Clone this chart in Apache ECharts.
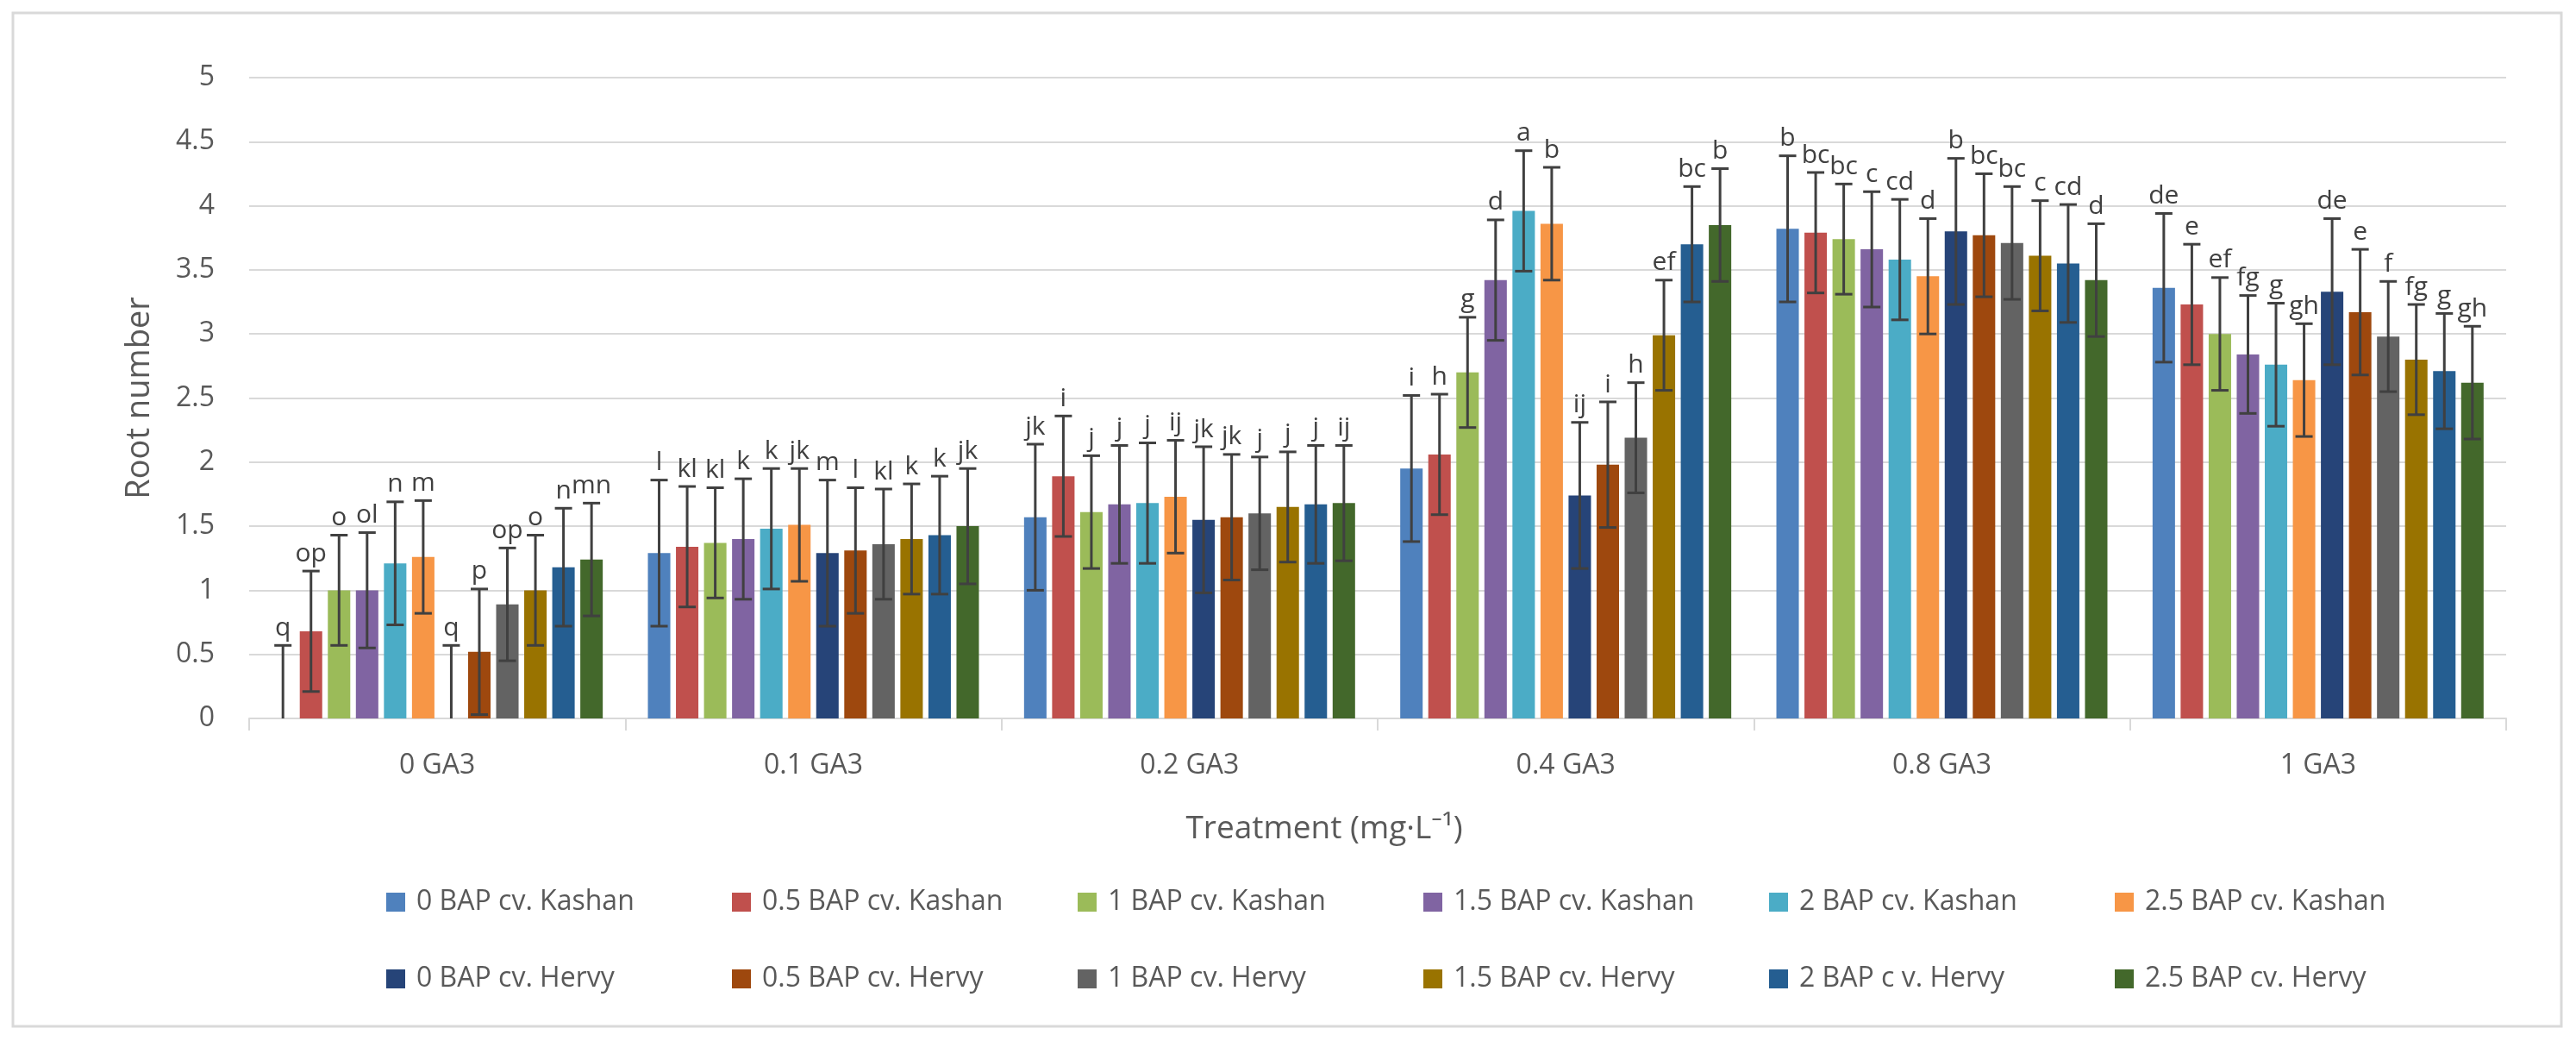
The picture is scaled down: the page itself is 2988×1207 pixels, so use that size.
<!DOCTYPE html>
<html><head><meta charset="utf-8">
<script src="https://cdn.jsdelivr.net/npm/echarts@6/dist/echarts.min.js"></script>
<style>html,body{margin:0;padding:0;background:#fff}#c{width:2988px;height:1207px}</style>
</head><body><div id="c"></div>
<script>
// ---- data ----
const categories = ['0 GA3', '0.1 GA3', '0.2 GA3', '0.4 GA3', '0.8 GA3', '1 GA3'];
const yTicks = [0, 0.5, 1, 1.5, 2, 2.5, 3, 3.5, 4, 4.5, 5];
const seriesNames = [
  '0 BAP cv. Kashan', '0.5 BAP cv. Kashan', '1 BAP cv. Kashan', '1.5 BAP cv. Kashan', '2 BAP cv. Kashan', '2.5 BAP cv. Kashan',
  '0 BAP cv. Hervy', '0.5 BAP cv. Hervy', '1 BAP cv. Hervy', '1.5 BAP cv. Hervy', '2 BAP c v. Hervy', '2.5 BAP cv. Hervy'
];
const seriesColors = ['#4F81BD', '#C0504D', '#9BBB59', '#8064A2', '#4BACC6', '#F79646',
                      '#264478', '#9E480E', '#636363', '#997300', '#255E91', '#43682B'];

const kashan0  = [0.00, 1.29, 1.57, 1.95, 3.82, 3.36];
const kashan05 = [0.68, 1.34, 1.89, 2.06, 3.79, 3.23];
const kashan1  = [1.00, 1.37, 1.61, 2.70, 3.74, 3.00];
const kashan15 = [1.00, 1.40, 1.67, 3.42, 3.66, 2.84];
const kashan2  = [1.21, 1.48, 1.68, 3.96, 3.58, 2.76];
const kashan25 = [1.26, 1.51, 1.73, 3.86, 3.45, 2.64];
const hervy0   = [0.00, 1.29, 1.55, 1.74, 3.80, 3.33];
const hervy05  = [0.52, 1.31, 1.57, 1.98, 3.77, 3.17];
const hervy1   = [0.89, 1.36, 1.60, 2.19, 3.71, 2.98];
const hervy15  = [1.00, 1.40, 1.65, 2.99, 3.61, 2.80];
const hervy2   = [1.18, 1.43, 1.67, 3.70, 3.55, 2.71];
const hervy25  = [1.24, 1.50, 1.68, 3.85, 3.42, 2.62];

const errKashan0  = [0.57, 0.57, 0.57, 0.57, 0.57, 0.58];
const errKashan05 = [0.47, 0.47, 0.47, 0.47, 0.47, 0.47];
const errKashan1  = [0.43, 0.43, 0.44, 0.43, 0.43, 0.44];
const errKashan15 = [0.45, 0.47, 0.46, 0.47, 0.45, 0.46];
const errKashan2  = [0.48, 0.47, 0.47, 0.47, 0.47, 0.48];
const errKashan25 = [0.44, 0.44, 0.44, 0.44, 0.45, 0.44];
const errHervy0   = [0.57, 0.57, 0.57, 0.57, 0.57, 0.57];
const errHervy05  = [0.49, 0.49, 0.49, 0.49, 0.48, 0.49];
const errHervy1   = [0.44, 0.43, 0.44, 0.43, 0.44, 0.43];
const errHervy15  = [0.43, 0.43, 0.43, 0.43, 0.43, 0.43];
const errHervy2   = [0.46, 0.46, 0.46, 0.45, 0.46, 0.45];
const errHervy25  = [0.44, 0.45, 0.45, 0.44, 0.44, 0.44];

const lblKashan0  = ['q', 'l', 'jk', 'i', 'b', 'de'];
const lblKashan05 = ['op', 'kl', 'i', 'h', 'bc', 'e'];
const lblKashan1  = ['o', 'kl', 'j', 'g', 'bc', 'ef'];
const lblKashan15 = ['ol', 'k', 'j', 'd', 'c', 'fg'];
const lblKashan2  = ['n', 'k', 'j', 'a', 'cd', 'g'];
const lblKashan25 = ['m', 'jk', 'ij', 'b', 'd', 'gh'];
const lblHervy0   = ['q', 'm', 'jk', 'ij', 'b', 'de'];
const lblHervy05  = ['p', 'l', 'jk', 'i', 'bc', 'e'];
const lblHervy1   = ['op', 'kl', 'j', 'h', 'bc', 'f'];
const lblHervy15  = ['o', 'k', 'j', 'ef', 'c', 'fg'];
const lblHervy2   = ['n', 'k', 'j', 'bc', 'cd', 'g'];
const lblHervy25  = ['mn', 'jk', 'ij', 'b', 'd', 'gh'];

const values = [kashan0, kashan05, kashan1, kashan15, kashan2, kashan25, hervy0, hervy05, hervy1, hervy15, hervy2, hervy25];
const errors = [errKashan0, errKashan05, errKashan1, errKashan15, errKashan2, errKashan25, errHervy0, errHervy05, errHervy1, errHervy15, errHervy2, errHervy25];
const letters = [lblKashan0, lblKashan05, lblKashan1, lblKashan15, lblKashan2, lblKashan25, lblHervy0, lblHervy05, lblHervy1, lblHervy15, lblHervy2, lblHervy25];

// ---- chart ----
const FONT = "'Open Sans', 'Noto Sans', sans-serif";
const TXT = '#595959';
const CAT_GAP = 0.12, BAR_GAP = 0.25, N = seriesNames.length;

const errData = [], errLabels = [];
values.forEach((arr, s) => arr.forEach((v, c) => {
  errData.push([c, s, v, errors[s][c]]);
  errLabels.push(letters[s][c]);
}));

function renderErr(params, api) {
  const cat = api.value(0), s = api.value(1), v = api.value(2), e = api.value(3);
  const band = api.size([1, 0])[0];
  const w = band * (1 - CAT_GAP) / (N + (N - 1) * BAR_GAP);
  const total = N * w + (N - 1) * w * BAR_GAP;
  const cx = api.coord([cat, 0])[0] - total / 2 + s * w * (1 + BAR_GAP) + w / 2;
  const yTop = api.coord([cat, v + e])[1];
  const yBot = api.coord([cat, Math.max(0, v - e)])[1];
  const cap = 10;
  const st = { stroke: '#404040', lineWidth: 3 };
  const children = [
    { type: 'line', shape: { x1: cx, y1: yTop, x2: cx, y2: yBot }, style: st },
    { type: 'line', shape: { x1: cx - cap, y1: yTop, x2: cx + cap, y2: yTop }, style: st }
  ];
  if (v - e > 0) children.push({ type: 'line', shape: { x1: cx - cap, y1: yBot, x2: cx + cap, y2: yBot }, style: st });
  children.push({ type: 'text', style: { text: errLabels[params.dataIndex], x: cx, y: yTop - 5,
    align: 'center', verticalAlign: 'bottom', fontSize: 30, fontFamily: FONT, fill: '#404040' } });
  return { type: 'group', children };
}

const barSeries = seriesNames.map((name, s) => ({
  name, type: 'bar', data: values[s],
  barGap: (BAR_GAP * 100) + '%', barCategoryGap: (CAT_GAP * 100) + '%',
  itemStyle: { color: seriesColors[s] }
}));

const legendCommon = {
  orient: 'horizontal', left: 443, icon: 'rect', itemWidth: 22, itemHeight: 22, itemGap: 34,
  textStyle: { fontSize: 32, color: TXT, fontFamily: FONT, width: 332, padding: [0, 0, 0, 8], lineHeight: 40 }
};

const option = {
  backgroundColor: '#fff',
  animation: false,
  color: seriesColors,
  grid: { left: 289, right: 81, top: 90, bottom: 374, containLabel: false },
  legend: [
    Object.assign({ top: 1021, data: seriesNames.slice(0, 6) }, legendCommon),
    Object.assign({ top: 1110, data: seriesNames.slice(6) }, legendCommon)
  ],
  xAxis: {
    type: 'category', data: categories,
    name: 'Treatment (mg\u00B7L\u207B\u00B9)', nameLocation: 'middle', nameGap: 110,
    nameTextStyle: { fontSize: 37, color: TXT, fontFamily: FONT, padding: [0, 124, 0, 0] },
    axisLine: { lineStyle: { color: '#d9d9d9', width: 2 } },
    axisTick: { show: true, length: 14, lineStyle: { color: '#d9d9d9', width: 2 } },
    axisLabel: { fontSize: 32, color: TXT, fontFamily: FONT, margin: 39 }
  },
  yAxis: {
    type: 'value', min: yTicks[0], max: yTicks[yTicks.length - 1], interval: yTicks[1] - yTicks[0],
    name: 'Root number', nameLocation: 'middle', nameGap: 108, nameRotate: 90,
    nameTextStyle: { fontSize: 38, color: TXT, fontFamily: FONT },
    axisLine: { show: false }, axisTick: { show: false },
    axisLabel: { fontSize: 32, color: TXT, fontFamily: FONT, margin: 40 },
    splitLine: { lineStyle: { color: '#d9d9d9', width: 2 } }
  },
  graphic: [{ type: 'rect', shape: { x: 15, y: 15, width: 2956, height: 1175 },
    style: { fill: 'none', stroke: '#d9d9d9', lineWidth: 3 }, silent: true, z: -1 }],
  series: barSeries.concat([{
    type: 'custom', name: 'errors', renderItem: renderErr, data: errData, z: 10, silent: true,
    encode: { x: 0, y: 2 }
  }])
};
const chart = echarts.init(document.getElementById('c'));
chart.setOption(option);
</script></body></html>
